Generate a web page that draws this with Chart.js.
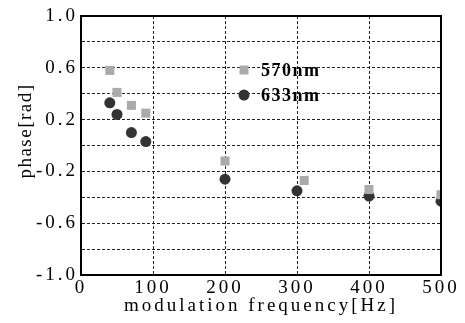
<!DOCTYPE html>
<html><head><meta charset="utf-8">
<script src="https://cdn.jsdelivr.net/npm/chart.js@4.4.0/dist/chart.umd.min.js"></script>
<style>html,body{margin:0;padding:0;background:#fff}#wrap{width:465px;height:323px}</style>
</head><body><div id="wrap"><canvas id="c" width="465" height="323"></canvas></div>
<script>
const freq570 = [40, 50, 70, 90, 200, 310, 400, 500];
const phase570 = [0.58, 0.41, 0.31, 0.25, -0.12, -0.27, -0.34, -0.38];
const freq633 = [40, 50, 70, 90, 200, 300, 400, 500];
const phase633 = [0.33, 0.24, 0.10, 0.03, -0.26, -0.35, -0.39, -0.43];
const seriesNames = ['570nm', '633nm'];
const xTicks = [0, 100, 200, 300, 400, 500];
const yLabels = ['-1.0', '-0.6', '-0.2', '0.2', '0.6', '1.0'];
const xTitle = 'modulation frequency[Hz]';
const yTitle = 'phase[rad]';

const SERIF = '"Liberation Serif", "DejaVu Serif", serif';
const c570 = '#aaaaaa', c633 = '#333333';

const spacingPlugin = {
  id: 'spacing',
  beforeDraw(chart) { chart.ctx.letterSpacing = '3px'; }
};
const boxLegend = {
  id: 'boxLegend',
  afterDraw(chart) {
    const {ctx, chartArea: a} = chart;
    ctx.save();
    ctx.letterSpacing = '0px';
    ctx.strokeStyle = '#000';
    ctx.lineWidth = 2;
    ctx.setLineDash([]);
    ctx.strokeRect(a.left, a.top, a.right - a.left, a.bottom - a.top);
    const mx = a.left + 163, y1 = a.top + 54, y2 = a.top + 79;
    ctx.fillStyle = c570;
    ctx.fillRect(mx - 4.5, y1 - 4.5, 9, 9);
    ctx.fillStyle = c633;
    ctx.beginPath(); ctx.arc(mx, y2, 5.5, 0, Math.PI * 2); ctx.fill();
    ctx.letterSpacing = '1.5px';
    ctx.fillStyle = '#000';
    ctx.font = 'bold 18px ' + SERIF;
    ctx.textBaseline = 'middle';
    ctx.textAlign = 'left';
    ctx.fillText(seriesNames[0], mx + 17, y1 + 1);
    ctx.fillText(seriesNames[1], mx + 17, y2 + 1);
    // y axis title
    ctx.translate(26, 131);
    ctx.rotate(-Math.PI / 2);
    ctx.font = '19px ' + SERIF;
    ctx.letterSpacing = '1.5px';
    ctx.textAlign = 'center';
    ctx.textBaseline = 'middle';
    ctx.fillText(yTitle, 0, 0);
    ctx.restore();
  }
};

new Chart(document.getElementById('c'), {
  type: 'scatter',
  data: {
    datasets: [
      { label: seriesNames[0], data: freq570.map((x, i) => ({x, y: phase570[i]})),
        pointStyle: 'rect', pointRadius: 6.4, backgroundColor: c570, borderWidth: 0 },
      { label: seriesNames[1], data: freq633.map((x, i) => ({x, y: phase633[i]})),
        pointStyle: 'circle', pointRadius: 5.5, backgroundColor: c633, borderWidth: 0 }
    ]
  },
  options: {
    responsive: false, animation: false,
    layout: { padding: { left: 0, right: 24, top: 16, bottom: 0 } },
    plugins: { legend: { display: false }, tooltip: { enabled: false } },
    scales: {
      x: {
        type: 'linear', min: 0, max: 500,
        afterFit(s) { s.height = 48; },
        afterBuildTicks(s) { s.ticks = xTicks.map(v => ({value: v})); },
        grid: { color: '#222', lineWidth: 1, drawTicks: false },
        border: { display: true, color: '#000', width: 2, dash: [3, 2] },
        ticks: { color: '#000', padding: 2, maxRotation: 0, font: { family: SERIF, size: 19 } },
        title: { display: true, text: xTitle, color: '#000',
          font: { family: SERIF, size: 19 }, padding: { top: 0, bottom: 6 } }
      },
      y: {
        min: -1, max: 1,
        afterFit(s) { s.width = 81; },
        afterBuildTicks(s) {
          const t = [];
          for (let i = 0; i <= 10; i++) t.push({value: -1 + i * 0.2});
          s.ticks = t;
        },
        grid: { color: '#222', lineWidth: 1, drawTicks: false },
        border: { display: true, color: '#000', width: 2, dash: [3, 2] },
        ticks: { color: '#000', padding: 3, font: { family: SERIF, size: 19 },
          callback(v, i) { return i % 2 === 0 ? yLabels[i / 2] : ''; } },
        title: { display: false }
      }
    }
  },
  plugins: [spacingPlugin, boxLegend]
});
</script></body></html>
